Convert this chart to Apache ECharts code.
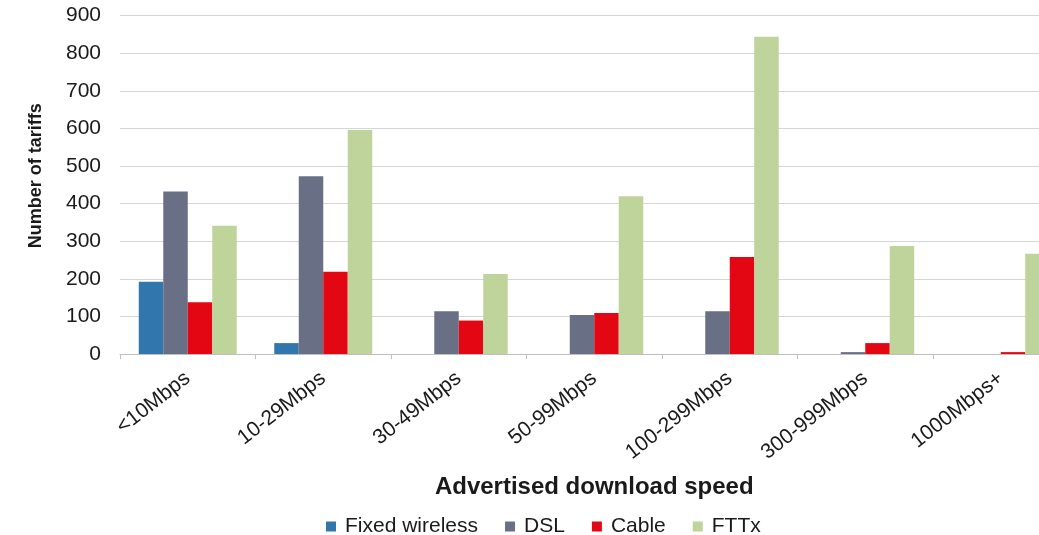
<!DOCTYPE html>
<html>
<head>
<meta charset="utf-8">
<script src="https://cdn.jsdelivr.net/npm/echarts@6/dist/echarts.min.js"></script>
<style>
html,body{margin:0;padding:0;background:#fff;}
#chart{width:1039px;height:535px;}
</style>
</head>
<body>
<div id="chart"></div>
<script>
const categories = ['<10Mbps', '10-29Mbps', '30-49Mbps', '50-99Mbps', '100-299Mbps', '300-999Mbps', '1000Mbps+'];
const fixedWireless = [192, 29, 0, 0, 0, 0, 0];
const dsl = [432, 473, 114, 104, 114, 5, 0];
const cable = [138, 219, 89, 109, 258, 29, 5];
const fttx = [341, 596, 213, 420, 844, 287, 267];
const seriesNames = ['Fixed wireless', 'DSL', 'Cable', 'FTTx'];
const colors = ['#3177AE', '#697085', '#E30613', '#BFD49B'];

const FONT = 'Liberation Sans, Arial, sans-serif';
const chart = echarts.init(document.getElementById('chart'), null, {renderer: 'canvas'});
const data = [fixedWireless, dsl, cable, fttx];

chart.setOption({
  animation: false,
  color: colors,
  textStyle: {fontFamily: FONT},
  grid: {left: 120, top: 15.7, right: -29.5, bottom: 181, containLabel: false, outerBoundsMode: 'none'},
  legend: {
    data: seriesNames,
    left: 321,
    top: 511,
    icon: 'rect',
    itemWidth: 10,
    itemHeight: 10,
    itemGap: 27,
    textStyle: {fontFamily: FONT, fontSize: 21, color: '#1a1a1a', padding: [0, 0, 0, 4]}
  },
  xAxis: {
    type: 'category',
    data: categories,
    boundaryGap: true,
    name: 'Advertised download speed',
    nameLocation: 'middle',
    nameGap: 121,
    nameTextStyle: {fontFamily: FONT, fontSize: 24, fontWeight: 'bold', color: '#1a1a1a'},
    axisLine: {show: true, lineStyle: {color: '#bfbfbf', width: 1}},
    axisTick: {show: true, length: 5, alignWithLabel: false, lineStyle: {color: '#bfbfbf'}},
    axisLabel: {rotate: 38, margin: 22, interval: 0, fontFamily: FONT, fontSize: 21, color: '#1a1a1a'}
  },
  yAxis: {
    type: 'value',
    min: 0,
    max: 900,
    interval: 100,
    name: 'Number of tariffs',
    nameLocation: 'middle',
    nameGap: 75,
    nameTextStyle: {fontFamily: FONT, fontSize: 18, fontWeight: 'bold', color: '#1a1a1a', padding: [0, 0, 0, 18]},
    axisLine: {show: false},
    axisTick: {show: false},
    axisLabel: {margin: 19, fontFamily: FONT, fontSize: 21, color: '#1a1a1a'},
    splitLine: {show: true, lineStyle: {color: '#d6d6d6', width: 1}}
  },
  series: seriesNames.map((n, i) => ({
    name: n,
    type: 'bar',
    data: data[i],
    barGap: '0%',
    barCategoryGap: '27.7%',
    itemStyle: {color: colors[i]}
  }))
});
</script>
</body>
</html>
